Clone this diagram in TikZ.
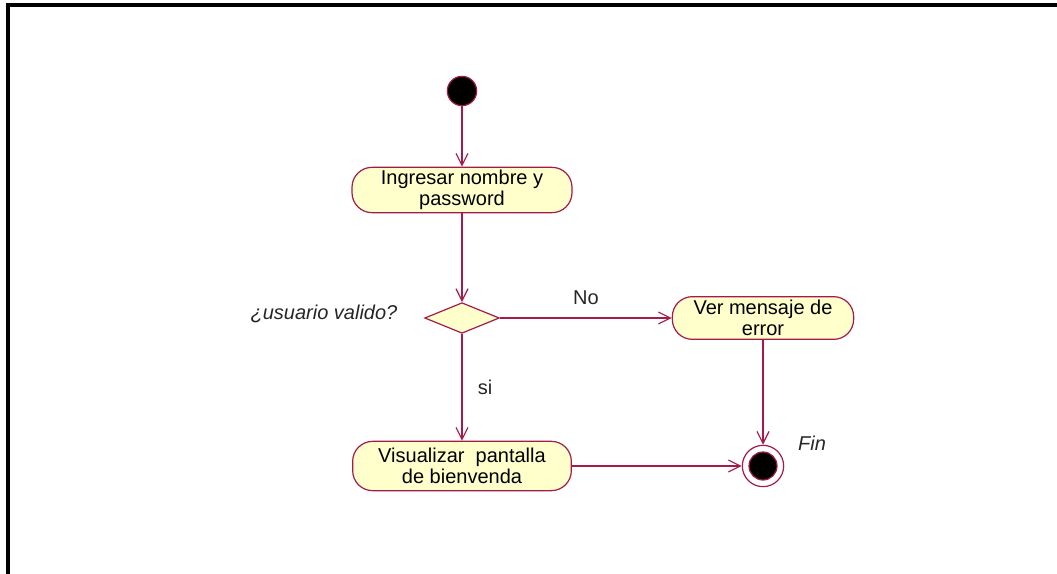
\documentclass[tikz,border=0pt]{standalone}
\usepackage{fontspec}
\setmainfont{Liberation Sans}
\usetikzlibrary{shapes.geometric,arrows.meta}
\definecolor{rosered}{RGB}{165,25,75}
\definecolor{actfill}{RGB}{255,255,204}

\begin{document}
\begin{tikzpicture}[x=0.75pt, y=-0.75pt, line width=0.9pt,
    font=\fontsize{15}{15.5}\selectfont,
    act/.style={draw=rosered, fill=actfill, rectangle, rounded corners=15pt, align=center, inner sep=0pt},
    flow/.style={draw=rosered, -{Straight Barb[length=9pt, width=9pt]}},
    lbl/.style={inner sep=0pt, text=black!85}]
    \useasboundingbox (0,0) rectangle (1057,574);
    \draw[black, line width=2.4pt] (8,574) -- (8,5) -- (1057,5);
    \node[draw=rosered, fill=black, circle, minimum size=22pt, inner sep=0pt] (start) at (462,91) {};
    \node[act, minimum width=165pt, minimum height=34pt] (ingresar) at (462,190) {Ingresar nombre y\\password};
    \node[draw=rosered, fill=actfill, diamond, aspect=2.4, minimum width=56pt, minimum height=23pt, inner sep=0pt] (valido) at (462,318) {};
    \node[act, minimum width=136pt, minimum height=32pt] (error) at (763,318) {Ver mensaje de\\error};
    \node[act, minimum width=164pt, minimum height=37pt] (bienvenida) at (462,466) {Visualizar\ \ pantalla\\de bienvenda};
    \node[draw=rosered, circle, minimum size=31pt, inner sep=0pt] (fin) at (763,466) {};
    \node[draw=rosered, fill=black, circle, minimum size=21pt, inner sep=0pt] at (fin) {};
    \node[lbl, anchor=east] (pregunta) at (398,314) {\itshape ¿usuario valido?};
    \node[lbl] (no) at (586,298) {No};
    \node[lbl] (si) at (485,387) {si};
    \node[lbl] (finlbl) at (812,443) {\itshape Fin};
    \draw[flow] (start) -- (ingresar);
    \draw[flow] (ingresar) -- (valido);
    \draw[flow] (valido) -- (error);
    \draw[flow] (valido) -- (bienvenida);
    \draw[flow] (error) -- (fin);
    \draw[flow] (bienvenida) -- (fin);
\end{tikzpicture}
\end{document}
